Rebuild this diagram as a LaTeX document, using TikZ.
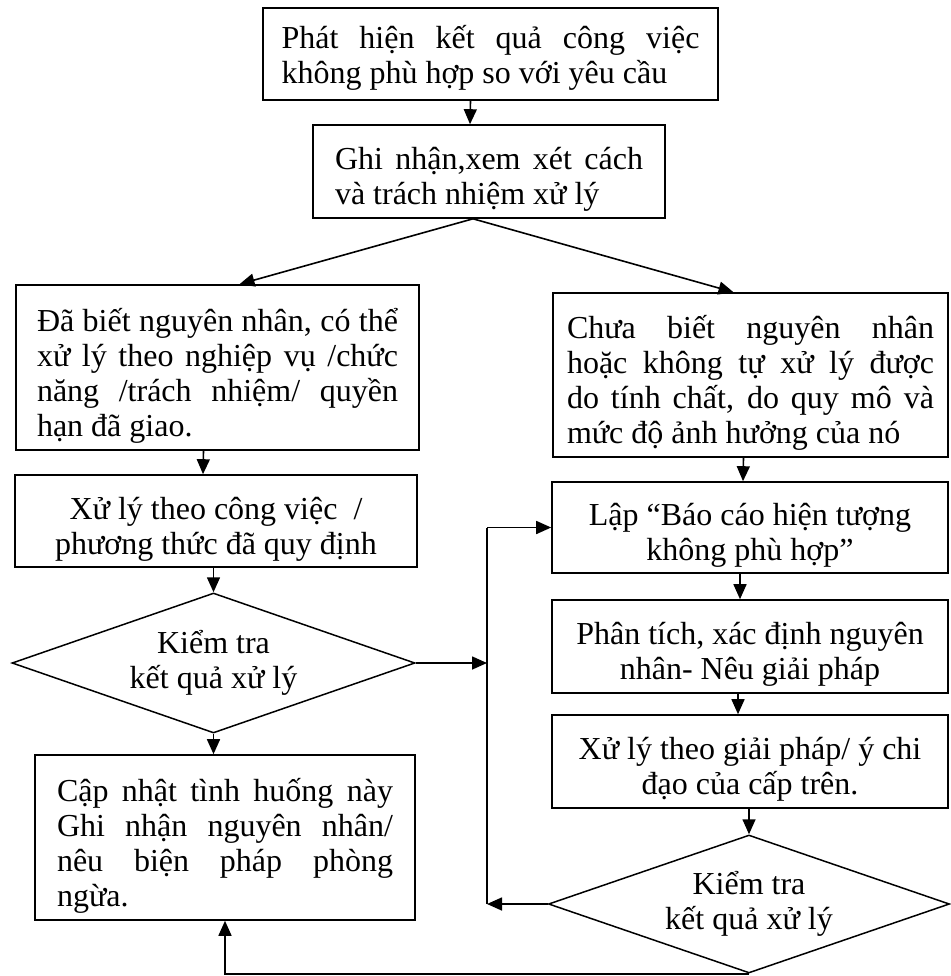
\documentclass[tikz,border=0pt]{standalone}
\usepackage{fontspec}
\setmainfont{Liberation Serif}
\usetikzlibrary{shapes.geometric,arrows.meta,calc}
\newcommand{\jl}[2]{\makebox[#1][s]{#2}}
\newcommand{\dn}[1]{\raisebox{0pt}[\dimexpr\height+16pt\relax][\depth]{#1}}
\newcommand{\dnsmall}[1]{\raisebox{0pt}[\dimexpr\height+8pt\relax][\depth]{#1}}
\newcommand{\jtext}[2]{\dn{\parbox{#1}{#2}}}
\newcommand{\ctext}[2]{\dn{\parbox{#1}{\centering #2}}}
\newcommand{\dtext}[2]{\parbox{#1}{\centering #2}}
\begin{document}
\begin{tikzpicture}[x=1pt,y=-1pt,
  box/.style={draw, rectangle, line width=1.6pt, inner sep=0pt,
    font=\fontsize{32pt}{35pt}\selectfont},
  dia/.style={draw, diamond, aspect=2.88, line width=1.5pt, inner sep=0pt,
    font=\fontsize{32pt}{35pt}\selectfont},
  arr/.style={line width=1.6pt, -{Triangle[length=15pt,width=13pt]}},
  ln/.style={line width=1.6pt}]
\fill[white] (0,0) rectangle (950,976);
\useasboundingbox (0,0) rectangle (950,976);

\node[box, minimum width=455pt, minimum height=92pt] (b1) at (490.5,54)
  {\dnsmall{\parbox{418pt}{\jl{418pt}{Phát hiện kết quả công việc}\\không phù hợp so với yêu cầu}}};
\node[box, minimum width=352pt, minimum height=93pt] (b2) at (489,171.5)
  {\jtext{308pt}{\jl{308pt}{Ghi nhận,xem xét cách}\\và trách nhiệm xử lý}};
\node[box, minimum width=403pt, minimum height=165pt] (b3) at (217.5,367.5)
  {\jtext{361pt}{\jl{361pt}{Đã biết nguyên nhân, có thể}\\\jl{361pt}{xử lý theo nghiệp vụ /chức}\\\jl{361pt}{năng /trách nhiệm/ quyền}\\hạn đã giao.}};
\node[box, minimum width=395pt, minimum height=164pt] (b4) at (750.5,375)
  {\jtext{367pt}{\jl{367pt}{Chưa biết nguyên nhân}\\\jl{367pt}{hoặc không tự xử lý được}\\\jl{367pt}{do tính chất, do quy mô và}\\mức độ ảnh hưởng của nó}};
\node[box, minimum width=402pt, minimum height=92pt] (b5) at (216,521)
  {\ctext{380pt}{Xử lý theo công việc~~/\\phương thức đã quy định}};
\node[box, minimum width=396pt, minimum height=91pt] (b6) at (750,527.5)
  {\ctext{380pt}{Lập “Báo cáo hiện tượng\\không phù hợp”}};
\node[box, minimum width=396pt, minimum height=93pt] (b7) at (750,646.5)
  {\ctext{380pt}{Phân tích, xác định nguyên\\nhân- Nêu giải pháp}};
\node[box, minimum width=396pt, minimum height=93pt] (b8) at (750,761.5)
  {\ctext{380pt}{Xử lý theo giải pháp/ ý chi\\đạo của cấp trên.}};
\node[dia, minimum width=403pt, minimum height=140pt] (d1) at (213.5,663)
  {\dtext{190pt}{Kiểm tra\\kết quả xử lý}};
\node[dia, minimum width=401pt, minimum height=138pt] (d2) at (749,904)
  {\dtext{190pt}{Kiểm tra\\kết quả xử lý}};
\node[box, minimum width=380pt, minimum height=165pt] (b9) at (225,837.5)
  {\jtext{336pt}{\jl{336pt}{Cập nhật tình huống này}\\\jl{336pt}{Ghi nhận nguyên nhân/}\\\jl{336pt}{nêu biện pháp phòng}\\ngừa.}};

\coordinate (vtop) at (487,527.5);
\coordinate (vbot) at (487,904);

\draw[arr] ([xshift=-20pt]b1.south) -- ([xshift=-19pt]b2.north);
\draw[arr] ([xshift=-16pt]b2.south) -- ([xshift=22pt]b3.north);
\draw[arr] ([xshift=-16pt]b2.south) -- ([xshift=-17pt]b4.north);
\draw[arr] ([xshift=-14pt]b3.south) -- ([xshift=-13pt]b5.north);
\draw[arr] (b5.south -| d1.north) -- (d1.north);
\draw[arr] (d1.south) -- (d1.south |- b9.north);
\draw[arr] (d1.east) -- (d1.east -| vtop);
\draw[arr] ([xshift=-7pt]b4.south) -- ([xshift=-7pt]b6.north);
\draw[arr] ([xshift=-10pt]b6.south) -- ([xshift=-10pt]b7.north);
\draw[arr] ([xshift=-12pt]b7.south) -- ([xshift=-12pt]b8.north);
\draw[arr] (b8.south -| d2.north) -- (d2.north);
\draw[arr] (d2.west) -- (vbot);
\draw[ln] (vbot) -- (vtop);
\draw[arr] (vtop) -- (b6.west);
\draw[arr] (d2.south) -- (d2.south -| b9.south) -- (b9.south);
\end{tikzpicture}
\end{document}
